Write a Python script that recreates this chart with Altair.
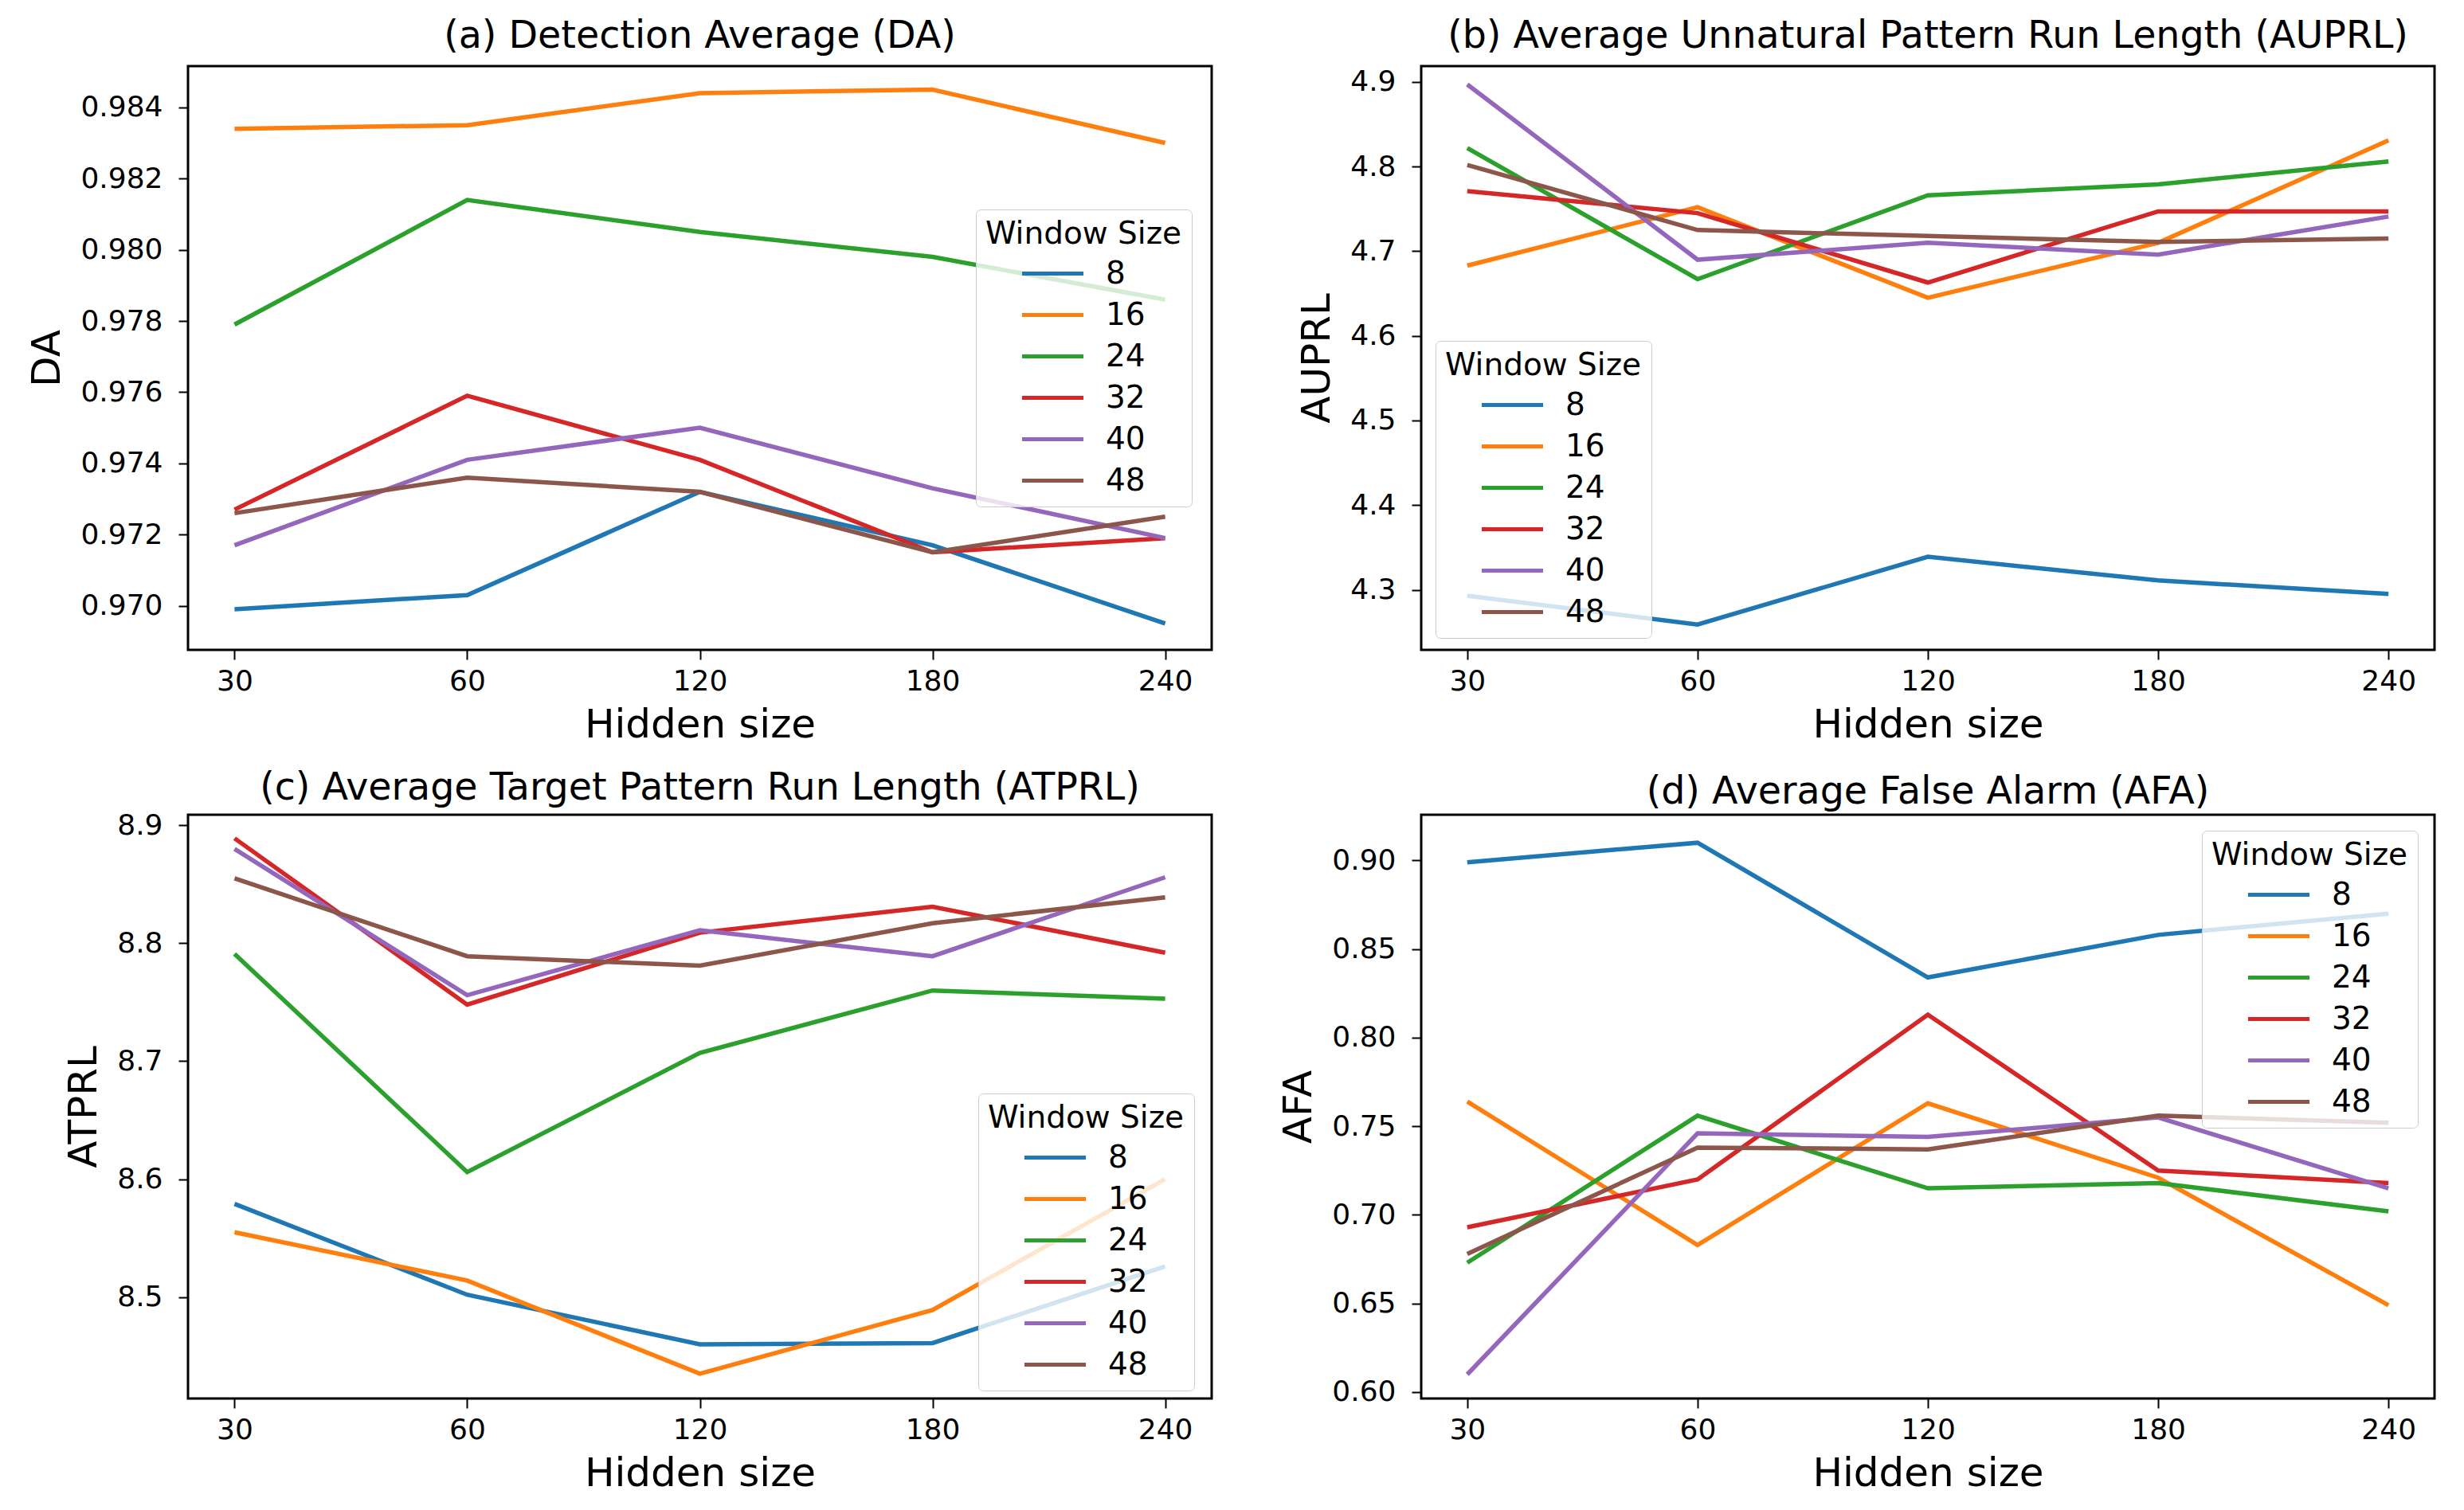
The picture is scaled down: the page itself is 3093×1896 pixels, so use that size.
import altair as alt
import pandas as pd

HIDDEN = [30, 60, 120, 180, 240]
WINDOWS = ["8", "16", "24", "32", "40", "48"]
COLORS = ["#1f77b4", "#ff7f0e", "#2ca02c", "#d62728", "#9467bd", "#8c564b"]

# (a) Detection Average
DA_8 = [0.9699, 0.9703, 0.9732, 0.9717, 0.9695]
DA_16 = [0.9834, 0.9835, 0.9844, 0.9845, 0.9830]
DA_24 = [0.9779, 0.9814, 0.9805, 0.9798, 0.9786]
DA_32 = [0.9727, 0.9759, 0.9741, 0.9715, 0.9719]
DA_40 = [0.9717, 0.9741, 0.9750, 0.9733, 0.9719]
DA_48 = [0.9726, 0.9736, 0.9732, 0.9715, 0.9725]

# (b) AUPRL
AUPRL_8 = [4.293, 4.259, 4.339, 4.311, 4.295]
AUPRL_16 = [4.683, 4.752, 4.645, 4.710, 4.831]
AUPRL_24 = [4.822, 4.667, 4.766, 4.779, 4.806]
AUPRL_32 = [4.771, 4.745, 4.663, 4.747, 4.747]
AUPRL_40 = [4.897, 4.690, 4.710, 4.696, 4.741]
AUPRL_48 = [4.802, 4.725, 4.718, 4.711, 4.715]

# (c) ATPRL
ATPRL_8 = [8.579, 8.502, 8.460, 8.461, 8.526]
ATPRL_16 = [8.555, 8.514, 8.435, 8.489, 8.600]
ATPRL_24 = [8.791, 8.606, 8.707, 8.760, 8.753]
ATPRL_32 = [8.889, 8.748, 8.809, 8.831, 8.792]
ATPRL_40 = [8.880, 8.756, 8.811, 8.789, 8.856]
ATPRL_48 = [8.855, 8.789, 8.781, 8.817, 8.839]

# (d) AFA
AFA_8 = [0.899, 0.910, 0.834, 0.858, 0.870]
AFA_16 = [0.764, 0.683, 0.763, 0.721, 0.649]
AFA_24 = [0.673, 0.756, 0.715, 0.718, 0.702]
AFA_32 = [0.693, 0.720, 0.813, 0.725, 0.718]
AFA_40 = [0.610, 0.746, 0.744, 0.755, 0.715]
AFA_48 = [0.678, 0.738, 0.737, 0.756, 0.752]

DA_TICKS = [0.970, 0.972, 0.974, 0.976, 0.978, 0.980, 0.982, 0.984]
AUPRL_TICKS = [4.3, 4.4, 4.5, 4.6, 4.7, 4.8, 4.9]
ATPRL_TICKS = [8.5, 8.6, 8.7, 8.8, 8.9]
AFA_TICKS = [0.60, 0.65, 0.70, 0.75, 0.80, 0.85, 0.90]

W1, W2, H = 1285, 1272, 733
FONT = "DejaVu Sans"


def make_df(series):
    rows = []
    for w, vals in zip(WINDOWS, series):
        for i, (h, v) in enumerate(zip(HIDDEN, vals)):
            rows.append({"hidden": h, "window": w, "value": v, "idx": i})
    return pd.DataFrame(rows)


def panel(series, title, ytitle, domain, ticks, fmt, lx, ly, width, toff):
    df = make_df(series)
    return alt.Chart(df, title=alt.Title(title, offset=toff)).mark_line(strokeWidth=5.5, clip=True).encode(
        x=alt.X("hidden:O", sort=HIDDEN,
                scale=alt.Scale(type="point", padding=0.2),
                axis=alt.Axis(title="Hidden size", labelAngle=0)),
        y=alt.Y("value:Q",
                scale=alt.Scale(domain=domain, nice=False, zero=False),
                axis=alt.Axis(values=ticks, format=fmt, title=ytitle)),
        color=alt.Color("window:N", sort=WINDOWS,
                        scale=alt.Scale(domain=WINDOWS, range=COLORS),
                        legend=alt.Legend(title="Window Size", orient="none",
                                          legendX=lx, legendY=ly)),
        order=alt.Order("idx:Q"),
    ).properties(width=width, height=H)


a = panel([DA_8, DA_16, DA_24, DA_32, DA_40, DA_48],
          "(a) Detection Average (DA)", "DA", [0.96876, 0.98516], DA_TICKS, ".3f", 989, 180, W1, 14)
b = panel([AUPRL_8, AUPRL_16, AUPRL_24, AUPRL_32, AUPRL_40, AUPRL_48],
          "(b) Average Unnatural Pattern Run Length (AUPRL)", "AUPRL", [4.229, 4.9187], AUPRL_TICKS, ".1f", 18, 345, W2, 14)
c = panel([ATPRL_8, ATPRL_16, ATPRL_24, ATPRL_32, ATPRL_40, ATPRL_48],
          "(c) Average Target Pattern Run Length (ATPRL)", "ATPRL", [8.414, 8.909], ATPRL_TICKS, ".1f", 992, 350, W1, 5)
d = panel([AFA_8, AFA_16, AFA_24, AFA_32, AFA_40, AFA_48],
          "(d) Average False Alarm (AFA)", "AFA", [0.5964, 0.9258], AFA_TICKS, ".2f", 980, 20, W2, 5)

chart = alt.concat(a, b, c, d, columns=2, spacing={"row": 27, "column": 81}).resolve_scale(
    x="independent", y="independent", color="independent"
).resolve_legend(color="independent").configure_view(
    stroke="black", strokeWidth=3
).configure_axis(
    domain=False, grid=False, tickColor="black", tickWidth=2, tickSize=12,
    labelFont=FONT, labelFontSize=36, labelColor="black",
    titleFont=FONT, titleFontSize=50, titleFontWeight="normal", titleColor="black",
).configure_axisX(
    labelPadding=10, titlePadding=12
).configure_axisY(
    labelPadding=20, titlePadding=16
).configure_title(
    font=FONT, fontSize=47.5, fontWeight="normal", color="black", anchor="middle"
).configure_legend(
    titleFont=FONT, titleFontSize=39, titleFontWeight="normal", titleColor="black",
    titleLimit=500, labelLimit=300,
    labelFont=FONT, labelFontSize=39, labelColor="black",
    symbolType="M-3,0H3", symbolStrokeWidth=5, symbolSize=660, symbolOffset=20,
    fillColor="rgba(255,255,255,0.8)", strokeColor="#cccccc", cornerRadius=6,
    padding=12, rowPadding=12, labelOffset=47, titlePadding=10,
    titleAnchor="middle",
).properties(padding={"left": 25, "top": 12, "right": 5, "bottom": 5})

chart.save("out.html", embed_options={"renderer": "svg", "actions": False})
